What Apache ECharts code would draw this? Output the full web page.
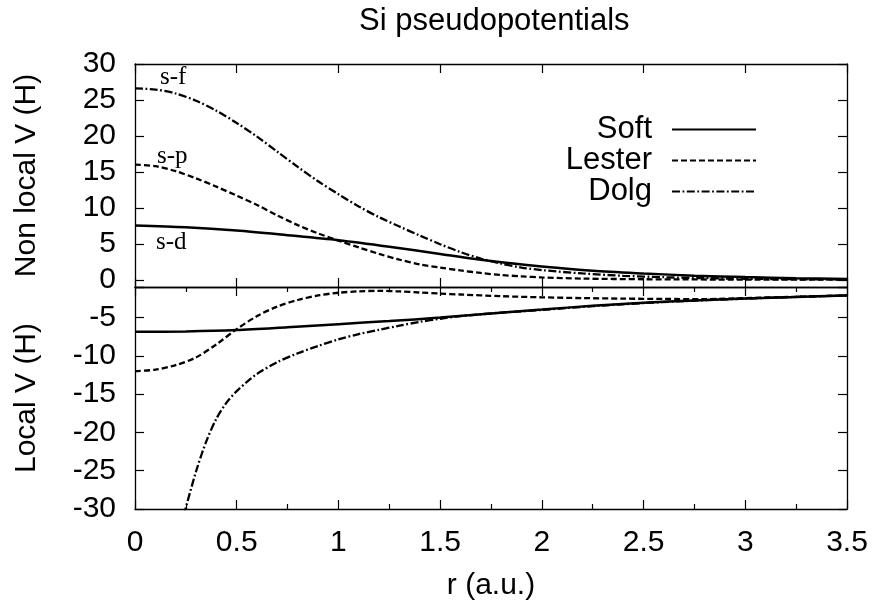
<!DOCTYPE html>
<html>
<head>
<meta charset="utf-8">
<script src="https://cdn.jsdelivr.net/npm/echarts@6/dist/echarts.min.js"></script>
<style>html,body{margin:0;padding:0;background:#fff}#c{width:877px;height:610px}</style>
</head>
<body>
<div id="c"></div>
<script>
// ---- data ----
const xTicks = [0, 0.5, 1, 1.5, 2, 2.5, 3, 3.5];
const yTopTicks = [0, 5, 10, 15, 20, 25, 30];
const yBottomTicks = [-30, -25, -20, -15, -10, -5];

// Non-local (top panel)
const rSoftNL = [0, 0.25, 0.5, 0.75, 1.0, 1.25, 1.5, 1.75, 2.0, 2.25, 2.5, 2.75, 3.0, 3.25, 3.5];
const vSoftNL = [7.55, 7.3, 6.85, 6.2, 5.5, 4.6, 3.6, 2.6, 1.85, 1.25, 0.88, 0.58, 0.38, 0.22, 0.12];

const rLesterNL = [0, 0.1, 0.2, 0.3, 0.4, 0.5, 0.6, 0.7, 0.8, 0.9, 1.0, 1.1, 1.2, 1.3, 1.4, 1.5, 1.6, 1.7, 1.8, 1.9, 2.0, 2.2, 2.5, 3.0, 3.5];
const vLesterNL = [16.0, 15.8, 15.1, 14.1, 12.95, 11.7, 10.4, 8.95, 7.6, 6.45, 5.45, 4.5, 3.6, 2.8, 2.15, 1.7, 1.3, 0.95, 0.67, 0.48, 0.33, 0.17, 0.08, 0.03, 0.01];

const rDolgNL = [0, 0.1, 0.2, 0.3, 0.4, 0.5, 0.6, 0.7, 0.8, 0.9, 1.0, 1.1, 1.2, 1.3, 1.4, 1.5, 1.6, 1.7, 1.8, 1.9, 2.0, 2.2, 2.4, 2.6, 2.8, 3.0, 3.25, 3.5];
const vDolgNL = [26.6, 26.45, 25.9, 24.9, 23.5, 21.8, 19.9, 17.8, 15.7, 13.7, 11.9, 10.2, 8.7, 7.4, 6.15, 4.95, 3.85, 2.95, 2.25, 1.7, 1.35, 0.88, 0.56, 0.36, 0.23, 0.15, 0.08, 0.05];

// Local (bottom panel)
const rSoftL = [0, 0.25, 0.5, 0.75, 1.0, 1.25, 1.5, 1.75, 2.0, 2.25, 2.5, 2.75, 3.0, 3.25, 3.5];
const vSoftL = [-6.85, -6.8, -6.62, -6.25, -5.85, -5.45, -5.0, -4.45, -3.95, -3.45, -3.05, -2.75, -2.5, -2.3, -2.1];

const rLesterL = [0, 0.1, 0.2, 0.3, 0.4, 0.5, 0.6, 0.7, 0.8, 0.9, 1.0, 1.1, 1.2, 1.3, 1.4, 1.5, 1.6, 1.8, 2.0, 2.2, 2.4, 2.6, 2.8, 3.0, 3.25, 3.5];
const vLesterL = [-12.0, -11.8, -11.2, -10.2, -8.5, -6.5, -4.8, -3.55, -2.7, -2.1, -1.75, -1.57, -1.5, -1.58, -1.72, -1.86, -1.98, -2.2, -2.35, -2.45, -2.52, -2.56, -2.58, -2.45, -2.28, -2.1];

const rDolgL = [0.24, 0.3, 0.35, 0.4, 0.45, 0.5, 0.55, 0.6, 0.7, 0.8, 0.9, 1.0, 1.1, 1.2, 1.3, 1.4, 1.5, 1.6, 1.8, 2.0, 2.25, 2.5, 2.75, 3.0, 3.25, 3.5];
const vDolgL = [-30.8, -25.1, -21.2, -18.2, -16.1, -14.6, -13.4, -12.35, -10.8, -9.66, -8.7, -7.85, -7.15, -6.6, -6.05, -5.55, -5.15, -4.8, -4.35, -4.0, -3.5, -3.1, -2.78, -2.52, -2.3, -2.1];

const names = ['Soft', 'Lester', 'Dolg'];
const curveLabels = ['s-f', 's-p', 's-d'];

// ---- chart ----
const FONT = '"Liberation Sans", Arial, Helvetica, sans-serif';
const SERIF = '25px "Liberation Serif", "Times New Roman", serif';
const pairs = (xs, ys) => xs.map((x, i) => [x, ys[i]]);
const styles = {
  Soft: { type: 'solid', width: 2.5 },
  Lester: { type: [6, 3], width: 2.3 },
  Dolg: { type: [8, 2.5, 1.8, 2.5], width: 2.3 }
};
const axisLine = { show: true, onZero: false, lineStyle: { color: '#000', width: 1.3 } };

function xAx(grid, pos, showLabel, minor, extra) {
  return Object.assign({
    type: 'value', gridIndex: grid, position: pos, min: xTicks[0], max: xTicks[xTicks.length - 1], interval: 0.5,
    axisLine: axisLine,
    axisTick: { show: true, inside: true, length: 9, lineStyle: { color: '#000', width: 1.2 } },
    minorTick: { show: minor, splitNumber: 2, length: 5, lineStyle: { color: '#000', width: 1.2 } },
    splitLine: { show: false },
    axisLabel: { show: showLabel, fontSize: 30, fontFamily: FONT, color: '#000', margin: 19 }
  }, extra || {});
}
function yAx(grid, pos, min, max, ticks, showLabel, extra) {
  return Object.assign({
    type: 'value', gridIndex: grid, position: pos, min: min, max: max,
    minInterval: 5, maxInterval: 5,
    axisLine: axisLine,
    axisTick: { show: true, inside: true, length: 9, lineStyle: { color: '#000', width: 1.2 } },
    splitLine: { show: false },
    axisLabel: {
      show: showLabel, fontSize: 30, fontFamily: FONT, color: '#000', margin: 19,
      formatter: v => (ticks.indexOf(v) >= 0 ? String(v) : '')
    }
  }, extra || {});
}

const series = [];
const sets = [
  ['Soft', rSoftNL, vSoftNL, 0], ['Lester', rLesterNL, vLesterNL, 0], ['Dolg', rDolgNL, vDolgNL, 0],
  ['Soft', rSoftL, vSoftL, 1], ['Lester', rLesterL, vLesterL, 1], ['Dolg', rDolgL, vDolgL, 1]
];
sets.forEach(([n, xs, ys, g]) => {
  series.push({
    name: n, type: 'line', xAxisIndex: g === 0 ? 0 : 2, yAxisIndex: g === 0 ? 0 : 2,
    data: pairs(xs, ys), symbol: 'none', smooth: 0.3, clip: true,
    lineStyle: Object.assign({ color: '#000' }, styles[n]), itemStyle: { color: '#000' },
    animation: false
  });
});

const option = {
  animation: false,
  backgroundColor: '#fff',
  title: {
    text: 'Si pseudopotentials', left: 354, top: 1,
    textStyle: { fontFamily: FONT, fontSize: 31, fontWeight: 'normal', color: '#000' }
  },
  legend: {
    data: names, orient: 'vertical', right: 115, top: 109, align: 'right',
    itemWidth: 84, itemHeight: 14, itemGap: 0,
    itemStyle: { opacity: 0 },
    textStyle: { fontFamily: FONT, fontSize: 31, color: '#000', lineHeight: 31, padding: [0, 15, 0, 0] }
  },
  grid: [
    { left: 135, right: 30, top: 64, height: 223 },
    { left: 135, right: 30, top: 287, height: 222 }
  ],
  xAxis: [
    xAx(0, 'bottom', false, false),
    xAx(0, 'top', false, false),
    xAx(1, 'bottom', true, true, {
      name: 'r (a.u.)', nameLocation: 'middle', nameGap: 62,
      nameTextStyle: { fontFamily: FONT, fontSize: 30, color: '#000' }
    }),
    xAx(1, 'top', false, true)
  ],
  yAxis: [
    yAx(0, 'left', -1, 30, yTopTicks, true, {
      name: 'Non local V (H)', nameLocation: 'middle', nameGap: 93, nameRotate: 90,
      nameTextStyle: { fontFamily: FONT, fontSize: 30, color: '#000' }
    }),
    yAx(0, 'right', -1, 30, yTopTicks, false),
    yAx(1, 'left', -30, -1, yBottomTicks, true, {
      name: 'Local V (H)', nameLocation: 'middle', nameGap: 93, nameRotate: 90,
      nameTextStyle: { fontFamily: FONT, fontSize: 30, color: '#000' }
    }),
    yAx(1, 'right', -30, -1, yBottomTicks, false)
  ],
  graphic: [
    { type: 'text', left: 160, top: 65, style: { text: curveLabels[0], font: SERIF, fill: '#000' } },
    { type: 'text', left: 157, top: 144, style: { text: curveLabels[1], font: SERIF, fill: '#000' } },
    { type: 'text', left: 156, top: 230, style: { text: curveLabels[2], font: SERIF, fill: '#000' } }
  ],
  series: series
};

const chart = echarts.init(document.getElementById('c'), null, { renderer: 'canvas' });
chart.setOption(option);
</script>
</body>
</html>
